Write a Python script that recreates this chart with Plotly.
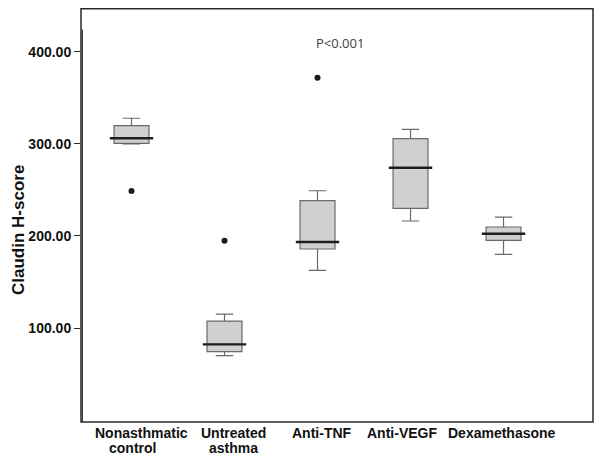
import plotly.graph_objects as go

categories = ["Nonasthmatic control", "Untreated asthma", "Anti-TNF", "Anti-VEGF", "Dexamethasone"]
label_line1 = ["Nonasthmatic", "Untreated", "Anti-TNF", "Anti-VEGF", "Dexamethasone"]
label_line2 = ["control", "asthma", "", "", ""]
lower_whisker = [300.0, 70.0, 162.6, 216.2, 180.0]
q1 = [300.5, 74.3, 185.8, 230.0, 195.2]
median = [306.0, 82.3, 193.4, 274.0, 202.4]
q3 = [319.7, 107.6, 238.2, 305.5, 209.7]
upper_whisker = [327.7, 115.2, 249.0, 315.7, 220.5]
outlier_cat = ["Nonasthmatic control", "Untreated asthma", "Anti-TNF"]
outlier_val = [248.8, 194.8, 371.8]
y_ticks = [100, 200, 300, 400]
y_ticklabels = ["100.00", "200.00", "300.00", "400.00"]
p_text = "P<0.001"
y_title = "Claudin H-score"

# label offsets (px) to mimic the reference typesetting
line1_shift = [10, 9, 4, -9, -2]
line2_shift = [1, 9, 0, 0, 0]

fig = go.Figure()
fig.add_trace(go.Box(
    x=categories, q1=q1, median=median, q3=q3,
    lowerfence=lower_whisker, upperfence=upper_whisker,
    fillcolor="#d0d0d0", line=dict(color="#6a6a6a", width=1.2),
    width=0.376, whiskerwidth=0.5, boxpoints=False, hoverinfo="skip",
    showlegend=False,
))
# darker median lines
fig.add_trace(go.Scatter(
    x=categories, y=median, mode="markers",
    marker=dict(symbol="line-ew", size=31, line=dict(color="#1e1e1e", width=2.4)),
    showlegend=False, hoverinfo="skip",
))
fig.add_trace(go.Scatter(
    x=outlier_cat, y=outlier_val, mode="markers",
    marker=dict(symbol="circle", size=6, color="#1a1a1a"),
    showlegend=False, hoverinfo="skip",
))

lab_font = dict(family="Liberation Sans, Arial", size=14, weight="bold", color="#111111")
for c, t1, t2, s1, s2 in zip(categories, label_line1, label_line2, line1_shift, line2_shift):
    fig.add_annotation(x=c, y=0, xref="x", yref="paper", text=t1, showarrow=False,
                       yanchor="top", yshift=-1, xshift=s1, font=lab_font)
    if t2:
        fig.add_annotation(x=c, y=0, xref="x", yref="paper", text=t2, showarrow=False,
                           yanchor="top", yshift=-16, xshift=s2, font=lab_font)

fig.add_annotation(
    x="Anti-TNF", y=409, xref="x", yref="y", text=p_text, showarrow=False,
    xanchor="left", yanchor="middle", xshift=-4,
    font=dict(family="Open Sans, Liberation Sans, Arial", size=13, color="#404040"),
)
fig.add_annotation(
    x=0, y=0.5, xref="paper", yref="paper", text=y_title, showarrow=False,
    textangle=-90, xanchor="center", yanchor="middle", xshift=-63, yshift=-15,
    font=dict(family="Liberation Sans, Arial", size=17, weight="bold", color="#111111"),
)

# frame
fig.add_shape(type="rect", xref="paper", yref="paper", x0=0, x1=1, y0=0, y1=0.998,
              line=dict(color="#2a2a2a", width=1.5), fillcolor="rgba(0,0,0,0)", layer="above")
# inner y axis line
fig.add_shape(type="line", xref="paper", yref="y", x0=0.0025, x1=0.0025, y0=-2, y1=424,
              line=dict(color="#2a2a2a", width=1.2))

# the page body adds an 8px margin, so the figure is 8px smaller each way
fig.update_layout(
    width=594, height=449,
    margin=dict(l=73, r=9, t=0, b=35, autoexpand=False),
    plot_bgcolor="white", paper_bgcolor="white",
    font=dict(family="Liberation Sans, Arial", color="#111111"),
    xaxis=dict(
        type="category", categoryorder="array", categoryarray=categories,
        range=[-0.543, 4.962], showgrid=False, zeroline=False, showline=False,
        ticks="", showticklabels=False, automargin=False,
    ),
    yaxis=dict(
        range=[-2, 447.4], tickvals=y_ticks, ticktext=y_ticklabels,
        showgrid=False, zeroline=False, showline=False, automargin=False,
        ticks="outside", ticklen=6, tickcolor="#2a2a2a", tickwidth=1.2,
        tickfont=dict(family="Liberation Sans, Arial", size=14, weight="bold", color="#111111"),
    ),
)

fig.write_html("out.html")
